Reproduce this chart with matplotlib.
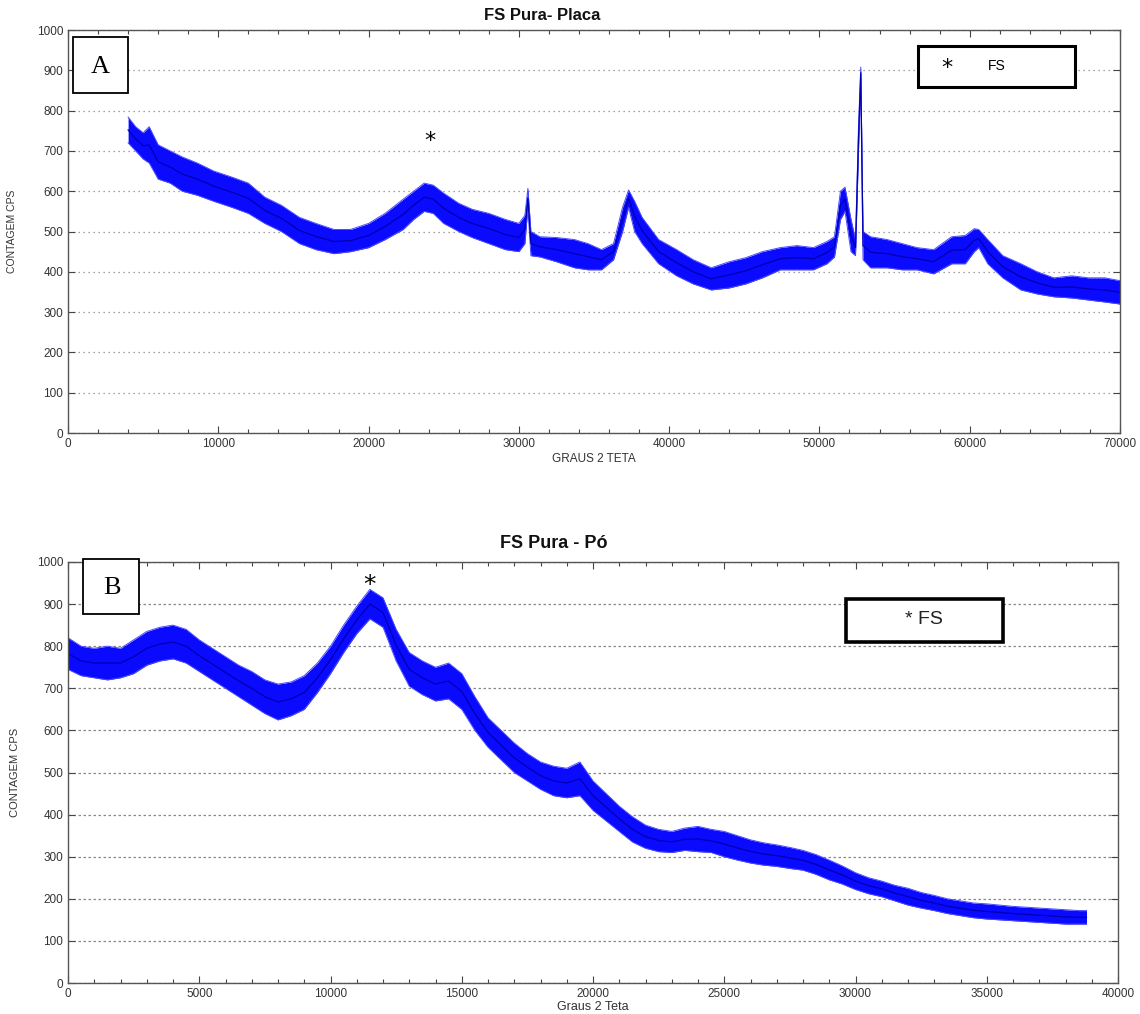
import matplotlib
matplotlib.use("Agg")
import matplotlib.pyplot as plt
from matplotlib.patches import Rectangle
from matplotlib.ticker import MultipleLocator

# ---------------- data ----------------
# Panel A: FS Pura - Placa  (x, lower envelope, upper envelope)
xA = [4000, 4500, 5000, 5400, 6000, 6800, 7600, 8600, 9700, 10900, 12000,
      13100, 14200, 15400, 16500, 17700, 18800, 20000, 21100, 22300, 23000,
      23700, 24300, 25000, 26000, 26900, 28000, 29100, 30000, 30400, 30600,
      30800, 31400, 32500, 33700, 34600, 35500, 36300, 36900, 37300, 37700,
      38200, 39300, 40500, 41600, 42800, 44000, 45100, 46200, 47400, 48500,
      49600, 50500, 51000, 51400, 51700, 52100, 52400, 52600, 52750, 52900,
      53400, 54500, 55500, 56500, 57600, 58800, 59700, 60300, 60600, 61200,
      62200, 63400, 64500, 65600, 66800, 67900, 69000, 70000]
loA = [720, 700, 680, 670, 630, 620, 600, 590, 575, 560, 545,
       520, 500, 470, 455, 445, 450, 460, 480, 505, 530,
       550, 545, 520, 500, 485, 470, 455, 450, 470, 560,
       440, 437, 425, 410, 405, 405, 430, 500, 560, 500,
       470, 420, 390, 370, 355, 360, 370, 385, 405, 405,
       405, 420, 437, 530, 550, 450, 440, 700, 880, 430,
       410, 410, 405, 405, 395, 420, 420, 450, 460, 420,
       385, 355, 345, 338, 335, 330, 325, 320]
hiA = [784, 760, 745, 760, 715, 700, 685, 670, 650, 635, 620,
       585, 565, 535, 520, 505, 505, 520, 545, 580, 600,
       620, 615, 595, 570, 555, 545, 530, 520, 540, 607,
       500, 487, 485, 480, 470, 455, 470, 560, 603, 575,
       535, 480, 455, 430, 410, 425, 435, 450, 460, 465,
       460, 475, 487, 600, 610, 530, 480, 760, 908, 500,
       487, 480, 470, 460, 455, 487, 490, 507, 505, 480,
       440, 420, 400, 385, 390, 385, 385, 378]

# Panel B: FS Pura - Po  (x, lower envelope, upper envelope)
xB = [0, 500, 1000, 1500, 2000, 2500, 3000, 3500, 4000, 4500, 5000, 5500,
      6000, 6500, 7000, 7500, 8000, 8500, 9000, 9500, 10000, 10500, 11000,
      11500, 12000, 12500, 13000, 13500, 14000, 14500, 15000, 15500, 16000,
      16500, 17000, 17500, 18000, 18500, 19000, 19500, 20000, 20500, 21000,
      21500, 22000, 22500, 23000, 23500, 24000, 24500, 25000, 25500, 26000,
      26500, 27000, 27500, 28000, 28500, 29000, 29500, 30000, 30500, 31000,
      31500, 32000, 32500, 33000, 33500, 34000, 34500, 35000, 35500, 36000,
      36500, 37000, 37500, 38000, 38500, 38800]
loB = [745, 730, 725, 720, 725, 735, 755, 765, 770, 760, 740, 720,
       700, 680, 660, 640, 625, 635, 650, 690, 735, 785, 830,
       865, 845, 765, 705, 685, 670, 675, 650, 600, 560,
       530, 500, 480, 460, 445, 440, 445, 410, 385, 360,
       335, 320, 312, 310, 315, 312, 310, 300, 292, 285,
       280, 277, 272, 268, 258, 245, 235, 222, 212, 205,
       195, 185, 178, 172, 165, 160, 155, 152, 150, 148,
       146, 144, 142, 140, 140, 140]
hiB = [820, 800, 795, 800, 795, 815, 835, 845, 850, 840, 815, 795,
       775, 755, 740, 720, 710, 715, 730, 760, 800, 850, 895,
       935, 915, 840, 785, 765, 750, 760, 735, 680, 630,
       600, 570, 545, 525, 515, 510, 525, 480, 450, 420,
       395, 375, 365, 360, 368, 372, 365, 360, 350, 340,
       333, 328, 322, 315, 305, 292, 278, 262, 250, 242,
       232, 225, 215, 208, 200, 195, 190, 188, 185, 182,
       180, 178, 176, 174, 172, 172]

# ---------------- figure ----------------
W, H = 1140, 1014
fig = plt.figure(figsize=(W / 100, H / 100), dpi=100)
fig.patch.set_facecolor("white")

def fx(x):
    return x / W

def fy(y):
    return 1 - y / H

SANS = ["Liberation Sans", "DejaVu Sans"]
SERIF = ["Liberation Serif", "DejaVu Serif"]

def style_axes(ax, xmax, major, minor, gridls):
    ax.set_xlim(0, xmax)
    ax.set_ylim(0, 1000)
    ax.xaxis.set_major_locator(MultipleLocator(major))
    ax.xaxis.set_minor_locator(MultipleLocator(minor))
    ax.yaxis.set_major_locator(MultipleLocator(100))
    ax.tick_params(which="both", direction="in", top=True, right=True,
                   colors="#444444", labelcolor="#333333", labelsize=8.5)
    ax.tick_params(which="major", length=5, width=0.8)
    ax.tick_params(which="minor", length=3, width=0.8)
    for lab in ax.get_xticklabels() + ax.get_yticklabels():
        lab.set_family(SANS)
    for s in ax.spines.values():
        s.set_color("#555555")
        s.set_linewidth(1.0)
    ax.yaxis.grid(True, linestyle=gridls, color="#888888", linewidth=0.9)
    ax.xaxis.grid(False)
    ax.set_axisbelow(True)

def draw_band(ax, x, lo, hi):
    ax.fill_between(x, lo, hi, color="#0a0aff", linewidth=0)
    ax.plot(x, lo, color="#4a4aff", linewidth=0.7)
    ax.plot(x, hi, color="#4a4aff", linewidth=0.7)
    ax.plot(x, [(a + b) / 2 for a, b in zip(lo, hi)], color="#0000b0", linewidth=0.9)

# ---- Panel A ----
axA = fig.add_axes([fx(68), fy(433), fx(1120 - 68), (433 - 30) / H])
draw_band(axA, xA, loA, hiA)
style_axes(axA, 70000, 10000, 2000, (0, (1, 3)))
axA.set_xlabel("GRAUS 2 TETA", family=SANS, fontsize=8.5, color="#333333", labelpad=2)
axA.set_ylabel("CONTAGEM CPS", family=SANS, fontsize=7.5, color="#333333", labelpad=14)
axA.text(24100, 725, "*", fontsize=16, ha="center", va="center", family=["DejaVu Sans"])

fig.text(fx(542), fy(16), "FS Pura- Placa", family=SANS, fontsize=12, fontweight="bold",
         ha="center", va="center", color="#111111")

# box "A"
fig.add_artist(Rectangle((fx(73), fy(93)), fx(128 - 73), (93 - 37) / H,
                         transform=fig.transFigure, facecolor="white",
                         edgecolor="black", linewidth=1.3, zorder=5))
fig.text(fx(100), fy(67), "A", family=SERIF, fontsize=19, ha="center", va="center", zorder=6)

# legend box A
fig.add_artist(Rectangle((fx(918), fy(87)), fx(1075 - 918), (87 - 46) / H,
                         transform=fig.transFigure, facecolor="white",
                         edgecolor="black", linewidth=2.2, zorder=5))
fig.text(fx(947), fy(68), "*", family=["DejaVu Sans"], fontsize=16, ha="center", va="center", zorder=6)
fig.text(fx(997), fy(66), "FS", family=SANS, fontsize=10, ha="center", va="center", zorder=6)

# ---- Panel B ----
axB = fig.add_axes([fx(68), fy(983), fx(1118 - 68), (983 - 562) / H])
draw_band(axB, xB, loB, hiB)
style_axes(axB, 40000, 5000, 1000, (0, (2, 2)))
axB.set_xlabel("Graus 2 Teta", family=SANS, fontsize=9, color="#333333", labelpad=1)
axB.set_ylabel("CONTAGEM CPS", family=SANS, fontsize=8, color="#333333", labelpad=12)
axB.text(11470, 945, "*", fontsize=18, ha="center", va="center", family=["DejaVu Sans"])

fig.text(fx(554), fy(543), "FS Pura - Pó", family=SANS, fontsize=13, fontweight="bold",
         ha="center", va="center", color="#111111")

# box "B"
fig.add_artist(Rectangle((fx(83), fy(614)), fx(139 - 83), (614 - 559) / H,
                         transform=fig.transFigure, facecolor="white",
                         edgecolor="black", linewidth=1.3, zorder=5))
fig.text(fx(112), fy(588), "B", family=SERIF, fontsize=19, ha="center", va="center", zorder=6)

# legend box B
fig.add_artist(Rectangle((fx(846), fy(642)), fx(1003 - 846), (642 - 599) / H,
                         transform=fig.transFigure, facecolor="white",
                         edgecolor="black", linewidth=2.6, zorder=5))
fig.text(fx(924), fy(620), "* FS", family=SANS, fontsize=14, ha="center", va="center",
         color="#222222", zorder=6)

fig.savefig("out.png", dpi=100, facecolor="white")
